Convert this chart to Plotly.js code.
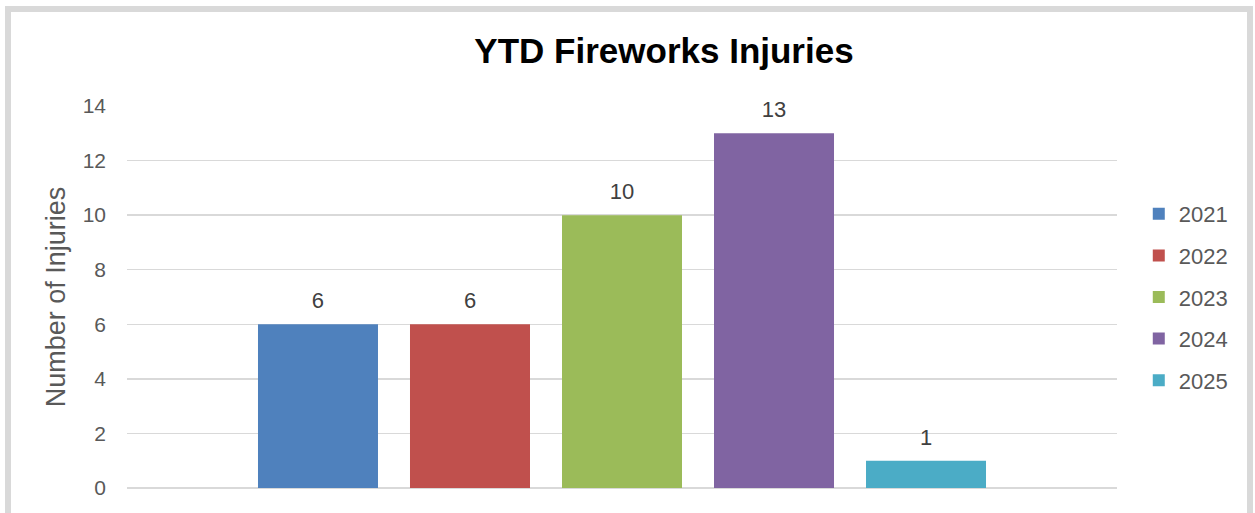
<!DOCTYPE html>
<html>
<head>
<meta charset="utf-8">
<script src="https://cdn.plot.ly/plotly-3.0.1.min.js"></script>
<style>
  html, body { margin: 0; padding: 0; background: #ffffff; }
  #wrap { position: relative; width: 1255px; height: 513px; overflow: hidden; }
  #chart { position: absolute; left: 0; top: 0; width: 1255px; height: 513px; }
  #frame { position: absolute; left: 5px; top: 6px; width: 1236px; height: 520px;
           border: 6px solid #d9d9d9; pointer-events: none; }
</style>
</head>
<body>
<div id="wrap">
  <div id="chart"></div>
  <div id="frame"></div>
</div>
<script>
const categories = [""];
const seriesNames = ["2021", "2022", "2023", "2024", "2025"];
const seriesValues = [[6], [6], [10], [13], [1]];
const seriesColors = ["#4f81bd", "#c0504d", "#9bbb59", "#8064a2", "#4bacc6"];
const yTickValues = [0, 2, 4, 6, 8, 10, 12, 14];

const FONT = "Liberation Sans, Arial, sans-serif";
const BARGAP = 0.2323;

const barTraces = seriesNames.map((name, i) => ({
  type: "bar",
  name: name,
  legendgroup: name,
  x: categories,
  y: seriesValues[i],
  marker: { color: seriesColors[i], line: { width: 0 } },
  hoverinfo: "skip"
}));

// Data labels: grouped scatter text traces that line up with the grouped bars
const labelTraces = seriesNames.map((name, i) => ({
  type: "scatter",
  mode: "markers+text",
  name: name + " label",
  legendgroup: name,
  showlegend: false,
  x: categories,
  y: seriesValues[i],
  text: seriesValues[i].map(String),
  textposition: "top center",
  textfont: { family: FONT, size: 22, color: "#404040" },
  marker: { size: 15, color: "rgba(0,0,0,0)", line: { width: 0 } },
  cliponaxis: false,
  hoverinfo: "skip"
}));

const layout = {
  width: 1255,
  height: 513,
  margin: { l: 127, r: 138, t: 106, b: 25 },
  paper_bgcolor: "rgba(0,0,0,0)",
  plot_bgcolor: "rgba(0,0,0,0)",
  font: { family: FONT, color: "#595959" },
  title: {
    text: "<b>YTD Fireworks Injuries</b>",
    font: { family: FONT, size: 35, color: "#000000" },
    x: 664 / 1255, xref: "container", xanchor: "center",
    y: 1 - 51 / 513, yref: "container", yanchor: "middle"
  },
  barmode: "group",
  bargap: BARGAP,
  bargroupgap: 0.2105,
  scattermode: "group",
  scattergap: BARGAP,
  showlegend: true,
  legend: {
    x: 1.022, xanchor: "left", y: 0.5, yanchor: "middle",
    font: { family: FONT, size: 22, color: "#595959" },
    tracegroupgap: 10,
    traceorder: "grouped",
    bgcolor: "rgba(0,0,0,0)"
  },
  xaxis: {
    type: "category",
    showticklabels: false,
    showgrid: false,
    zeroline: false,
    showline: false,
    ticks: ""
  },
  yaxis: {
    range: [0, 14],
    tickvals: yTickValues,
    ticktext: yTickValues.map(String),
    showgrid: true,
    gridcolor: "#d9d9d9",
    gridwidth: 1.5,
    zeroline: true,
    zerolinecolor: "#d9d9d9",
    zerolinewidth: 1.5,
    showline: false,
    ticks: "",
    ticklabelstandoff: 20,
    tickfont: { family: FONT, size: 21, color: "#595959" },
    title: {
      text: "Number of Injuries",
      font: { family: FONT, size: 27, color: "#595959" },
      standoff: 9
    },
    automargin: false
  }
};

Plotly.newPlot("chart", barTraces.concat(labelTraces), layout, { displayModeBar: false, staticPlot: true });
</script>
</body>
</html>
